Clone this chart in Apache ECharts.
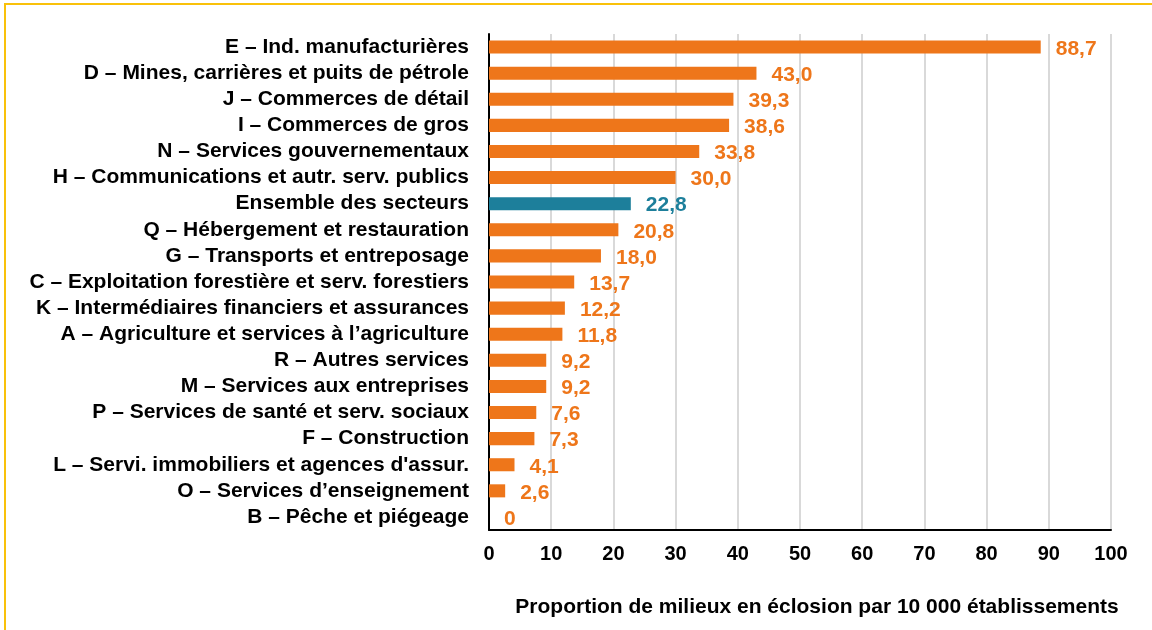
<!DOCTYPE html>
<html>
<head>
<meta charset="utf-8">
<script src="https://cdn.jsdelivr.net/npm/echarts@6/dist/echarts.min.js"></script>
<style>
html,body{margin:0;padding:0;background:#fff;overflow:hidden;}
#frame{position:absolute;left:4px;top:3px;width:2000px;height:2000px;border:2px solid #F9C10A;box-sizing:border-box;}
#chart{position:absolute;left:0;top:0;width:1152px;height:630px;}
</style>
</head>
<body>
<div id="frame"></div>
<div id="chart"></div>
<script>
const categories = [
  "E – Ind. manufacturières",
  "D – Mines, carrières et puits de pétrole",
  "J – Commerces de détail",
  "I – Commerces de gros",
  "N – Services gouvernementaux",
  "H – Communications et autr. serv. publics",
  "Ensemble des secteurs",
  "Q – Hébergement et restauration",
  "G – Transports et entreposage",
  "C – Exploitation forestière et serv. forestiers",
  "K – Intermédiaires financiers et assurances",
  "A – Agriculture et services à l’agriculture",
  "R – Autres services",
  "M – Services aux entreprises",
  "P – Services de santé et serv. sociaux",
  "F – Construction",
  "L – Servi. immobiliers et agences d'assur.",
  "O – Services d’enseignement",
  "B – Pêche et piégeage"
];
const values = [88.7, 43.0, 39.3, 38.6, 33.8, 30.0, 22.8, 20.8, 18.0, 13.7, 12.2, 11.8, 9.2, 9.2, 7.6, 7.3, 4.1, 2.6, 0];
const highlightCategory = "Ensemble des secteurs";
const xTicks = [0, 10, 20, 30, 40, 50, 60, 70, 80, 90, 100];
const axisTitle = "Proportion de milieux en éclosion par 10 000 établissements";

const ORANGE = '#EE761A';
const TEAL = '#1D7F9B';
const font = '"Liberation Sans", Arial, Helvetica, sans-serif';

const chart = echarts.init(document.getElementById('chart'), null, {renderer: 'canvas'});
const fmt = v => v === 0 ? '0' : v.toFixed(1).replace('.', ',');

chart.setOption({
  backgroundColor: 'transparent',
  animation: false,
  grid: {left: 489, right: 41, top: 34, bottom: 100, containLabel: false},
  xAxis: {
    type: 'value', min: xTicks[0], max: xTicks[xTicks.length - 1], interval: 10,
    axisLine: {show: true, lineStyle: {color: '#000', width: 2}},
    axisTick: {show: false},
    splitLine: {show: true, lineStyle: {color: '#D9D9D9', width: 2}},
    axisLabel: {color: '#000', fontWeight: 'bold', fontSize: 20, fontFamily: font, margin: 14}
  },
  yAxis: {
    type: 'category', data: categories, inverse: true,
    axisLine: {show: true, lineStyle: {color: '#000', width: 2}},
    axisTick: {show: false},
    axisLabel: {color: '#000', fontWeight: 'bold', fontSize: 21, fontFamily: font, margin: 20, interval: 0}
  },
  graphic: [{
    type: 'text', x: 817, y: 597,
    style: {text: axisTitle, fill: '#000', font: 'bold 21px ' + font, textAlign: 'center', textVerticalAlign: 'top'}
  }],
  series: [{
    type: 'bar',
    barWidth: '50%',
    data: values.map((v, i) => ({
      value: v,
      itemStyle: {color: categories[i] === highlightCategory ? TEAL : ORANGE},
      label: {color: categories[i] === highlightCategory ? TEAL : ORANGE}
    })),
    label: {
      show: true, position: 'right', distance: 15, offset: [0, 2],
      fontWeight: 'bold', fontSize: 21, fontFamily: font,
      formatter: p => fmt(p.value)
    }
  }]
});
</script>
</body>
</html>
